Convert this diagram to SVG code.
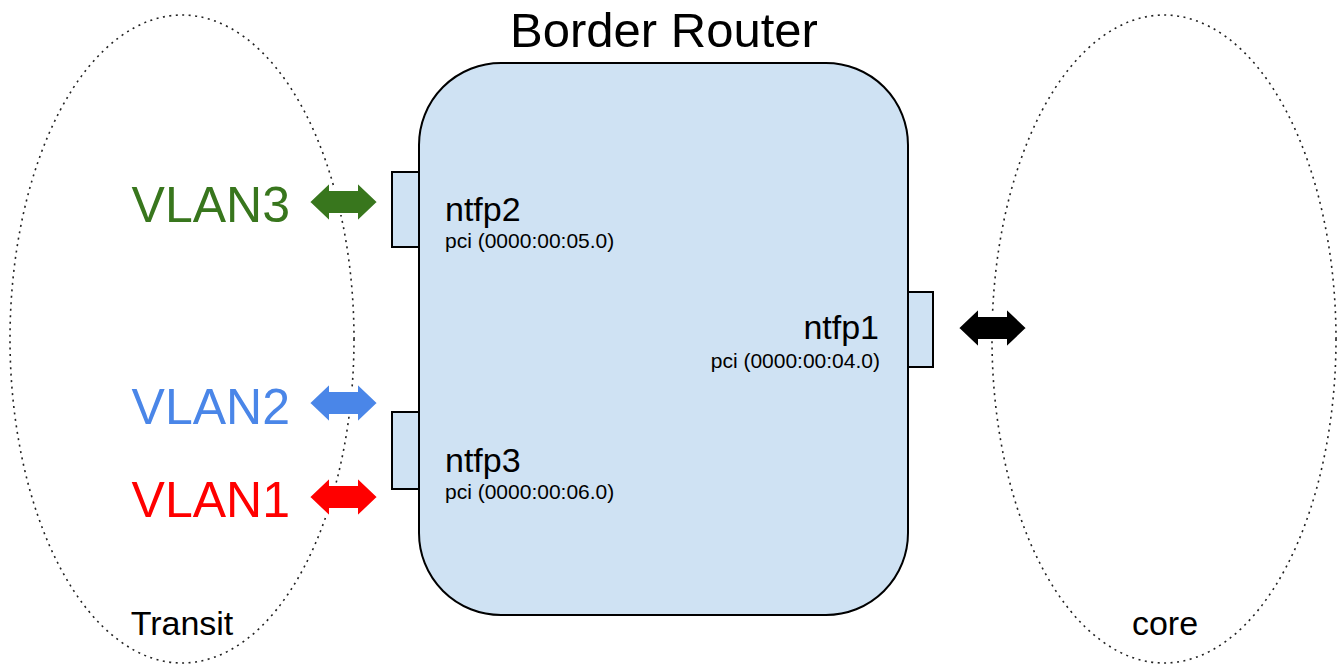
<svg xmlns="http://www.w3.org/2000/svg" width="1342" height="664" viewBox="0 0 1342 664">
<style>
.zone{fill:none;stroke:#222;stroke-width:1.6;stroke-dasharray:2 4.5}
.box{fill:#cfe2f3;stroke:#000;stroke-width:2}
.t{font-family:"Liberation Sans",Arial,sans-serif;fill:#000}
.arr{stroke:#fff;stroke-width:2;stroke-linejoin:miter}
</style>
<defs>
<path id="dbl" d="M0,0 L21,-20 L21,-12 L48,-12 L48,-20 L69,0 L48,20 L48,12 L21,12 L21,20 Z"/>
</defs>
<rect width="1342" height="664" fill="#fff"/>
<g id="transit">
<ellipse class="zone" cx="182" cy="339" rx="172" ry="324"/>
<text class="t" x="182" y="635" font-size="34" text-anchor="middle">Transit</text>
</g>
<g id="core">
<ellipse class="zone" cx="1164" cy="339" rx="172" ry="324"/>
<text class="t" x="1165" y="635" font-size="34" text-anchor="middle">core</text>
</g>
<g id="router">
<rect class="box" x="419" y="63" width="489" height="552" rx="82" ry="82"/>
<text class="t" x="664" y="47" font-size="49" text-anchor="middle">Border Router</text>
</g>
<g id="ntfp2">
<rect class="box" x="392" y="172" width="27" height="75"/>
<text class="t" x="445" y="221" font-size="34">ntfp2</text>
<text class="t" x="445" y="248" font-size="21">pci (0000:00:05.0)</text>
</g>
<g id="ntfp3">
<rect class="box" x="392" y="412" width="27" height="77"/>
<text class="t" x="445" y="472" font-size="34">ntfp3</text>
<text class="t" x="445" y="499" font-size="21">pci (0000:00:06.0)</text>
</g>
<g id="ntfp1">
<rect class="box" x="908" y="292" width="25" height="75"/>
<text class="t" x="879" y="339" font-size="34" text-anchor="end">ntfp1</text>
<text class="t" x="880" y="368" font-size="21" text-anchor="end">pci (0000:00:04.0)</text>
</g>
<g id="vlan3"><text class="t" x="290" y="222" font-size="50" text-anchor="end" style="fill:#38761d">VLAN3</text></g>
<g id="vlan2"><text class="t" x="290" y="424" font-size="50" text-anchor="end" style="fill:#4a86e8">VLAN2</text></g>
<g id="vlan1"><text class="t" x="290" y="517" font-size="50" text-anchor="end" style="fill:#ff0000">VLAN1</text></g>
<g id="connectors">
<use href="#dbl" class="arr" x="309" y="202" fill="#38761d"/>
<use href="#dbl" class="arr" x="309" y="403" fill="#4a86e8"/>
<use href="#dbl" class="arr" x="309" y="497" fill="#ff0000"/>
<use href="#dbl" class="arr" x="958" y="328" fill="#000"/>
</g>
</svg>
